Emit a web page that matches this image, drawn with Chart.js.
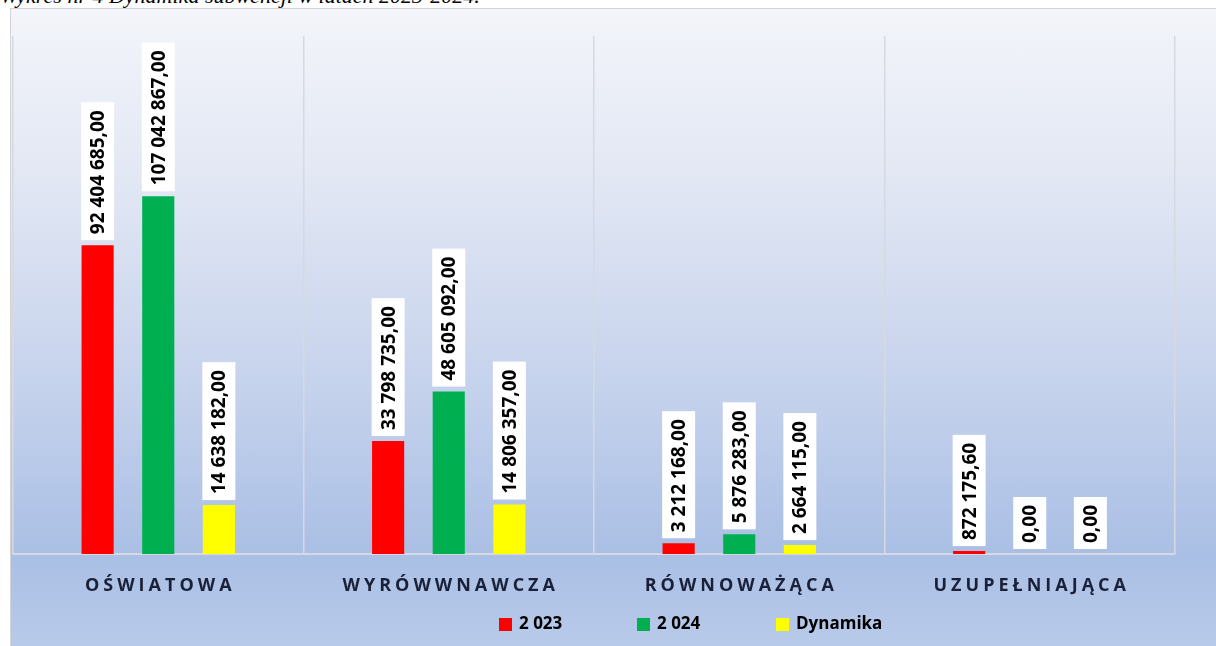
<!DOCTYPE html>
<html>
<head>
<meta charset="utf-8">
<script src="https://cdn.jsdelivr.net/npm/chart.js@4"></script>
<style>
  html, body { margin: 0; padding: 0; background: #fff; }
  body { width: 1216px; height: 646px; position: relative; overflow: hidden; }
  #title {
    position: absolute; left: 0; top: -15px;
    font: italic 22px "Liberation Serif", serif; line-height: 22px;
    color: #000; white-space: nowrap;
  }
  #box {
    position: absolute; left: 10px; top: 8px; width: 1210px; height: 642px;
    border: 1px solid #d4d4d4; border-right: none; border-bottom: none;
    background: linear-gradient(to bottom, #f3f5fa 0%, #e3e8f4 25%, #c9d5ed 55%, #aabfe5 85%, #b9cbea 100%);
  }
  #chart { position: absolute; left: 0; top: 0; }
</style>
</head>
<body>
<div id="title">Wykres nr 4 Dynamika subwencji w latach 2023-2024.</div>
<div id="box"><canvas id="chart" width="1210" height="642"></canvas></div>
<script>
const categories = ['OŚWIATOWA', 'WYRÓWWNAWCZA', 'RÓWNOWAŻĄCA', 'UZUPEŁNIAJĄCA'];
const seriesNames = ['2 023', '2 024', 'Dynamika'];
const values2023 = [92404685.00, 33798735.00, 3212168.00, 872175.60];
const values2024 = [107042867.00, 48605092.00, 5876283.00, 0.00];
const valuesDynamika = [14638182.00, 14806357.00, 2664115.00, 0.00];

const colors = {
    red: '#ff0000',
    green: '#00b050',
    yellow: '#ffff00',
    grid: '#d6d9e0',
    text: '#1a2038'
};

// "92 404 685,00" style
function formatPl(v) {
    const parts = v.toFixed(2).split('.');
    const intPart = parts[0].replace(/\B(?=(\d{3})+(?!\d))/g, ' ');
    return intPart + ',' + parts[1];
}

// data labels: rotated text on white boxes above each bar
const barLabels = {
    id: 'barLabels',
    afterDatasetsDraw(chart) {
        const ctx = chart.ctx;
        ctx.save();
        ctx.font = 'bold 19px "Open Sans"';
        ctx.textBaseline = 'middle';
        ctx.textAlign = 'left';
        chart.data.datasets.forEach((ds, di) => {
            const meta = chart.getDatasetMeta(di);
            meta.data.forEach((bar, i) => {
                const text = formatPl(ds.data[i]);
                const w = ctx.measureText(text).width;
                const boxLen = w + 14;
                const boxW = 33;
                const bottom = bar.y - 5;
                ctx.fillStyle = '#ffffff';
                ctx.fillRect(bar.x - boxW / 2, bottom - boxLen, boxW, boxLen);
                ctx.save();
                ctx.translate(bar.x + 1, bottom - 6);
                ctx.rotate(-Math.PI / 2);
                ctx.fillStyle = '#000';
                ctx.fillText(text, 0, 0);
                ctx.restore();
            });
        });
        ctx.restore();
    }
};

// spaced category names under the axis, and the legend row
const axisAndLegend = {
    id: 'axisAndLegend',
    afterDraw(chart) {
        const ctx = chart.ctx;
        const x = chart.scales.x;
        const spacing = 4;
        ctx.save();
        ctx.fillStyle = colors.text;
        ctx.font = 'bold 18px "Open Sans"';
        ctx.letterSpacing = spacing + 'px';
        ctx.textBaseline = 'middle';
        ctx.textAlign = 'left';
        categories.forEach((c, i) => {
            const w = ctx.measureText(c).width - spacing;
            ctx.fillText(c, x.getPixelForValue(i) - w / 2, 577);
        });
        ctx.letterSpacing = '0px';

        // legend
        ctx.font = 'bold 17px "Open Sans"';
        const legendX = [488, 626, 765];
        chart.data.datasets.forEach((ds, i) => {
            ctx.fillStyle = ds.backgroundColor;
            ctx.fillRect(legendX[i], 609, 13, 13);
            ctx.fillStyle = '#000';
            ctx.fillText(ds.label, legendX[i] + 20, 615);
        });
        ctx.restore();
    }
};

new Chart(document.getElementById('chart'), {
    type: 'bar',
    data: {
        labels: categories,
        datasets: [
            { label: seriesNames[0], data: values2023, backgroundColor: colors.red },
            { label: seriesNames[1], data: values2024, backgroundColor: colors.green },
            { label: seriesNames[2], data: valuesDynamika, backgroundColor: colors.yellow }
        ]
    },
    options: {
        responsive: false,
        animation: false,
        devicePixelRatio: 1,
        layout: { padding: { left: 2, right: 46, top: 27, bottom: 97 } },
        categoryPercentage: 0.626,
        barPercentage: 0.53,
        scales: {
            x: {
                offset: true,
                grid: { display: true, offset: true, color: colors.grid, lineWidth: 1.5, drawTicks: false },
                border: { display: true, color: '#d6d9e0', width: 2 },
                ticks: { display: false }
            },
            y: {
                display: false,
                min: 0,
                max: 155000000
            }
        },
        plugins: {
            legend: { display: false },
            tooltip: { enabled: false }
        }
    },
    plugins: [barLabels, axisAndLegend]
});
</script>
</body>
</html>
